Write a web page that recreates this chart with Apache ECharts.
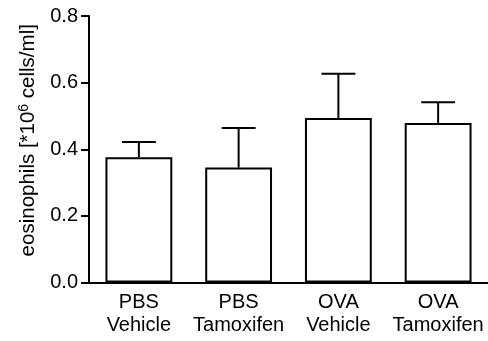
<!DOCTYPE html>
<html>
<head>
<meta charset="utf-8">
<script src="https://cdn.jsdelivr.net/npm/echarts@6/dist/echarts.min.js"></script>
<style>
  html, body { margin: 0; padding: 0; background: #fff; }
  #chart { width: 488px; height: 341px; }
</style>
</head>
<body>
<div id="chart"></div>
<script>
// Groups, means and SEM of eosinophil counts
var categories = ['PBS\nVehicle', 'PBS\nTamoxifen', 'OVA\nVehicle', 'OVA\nTamoxifen'];
var means = [0.376, 0.345, 0.494, 0.479];
var errors = [0.046, 0.119, 0.133, 0.062];
var yTicks = [0.0, 0.2, 0.4, 0.6, 0.8];

var FONT = 'Liberation Sans, Arial, sans-serif';

var errData = means.map(function (m, i) { return [i, m, m + errors[i]]; });

var chart = echarts.init(document.getElementById('chart'));
chart.setOption({
  animation: false,
  grid: { left: 89, right: 0, top: 16, bottom: 58.5 },
  xAxis: {
    type: 'category',
    data: categories,
    axisLine: { lineStyle: { color: '#000', width: 2 } },
    axisTick: { show: false },
    axisLabel: {
      interval: 0,
      color: '#000', fontFamily: FONT, fontSize: 20, lineHeight: 22.5, margin: 9
    }
  },
  yAxis: {
    type: 'value',
    min: yTicks[0],
    max: yTicks[yTicks.length - 1],
    interval: 0.2,
    splitLine: { show: false },
    axisLine: { show: true, lineStyle: { color: '#000', width: 2 } },
    axisTick: { show: true, length: 8, lineStyle: { color: '#000', width: 2 } },
    axisLabel: {
      color: '#000', fontFamily: FONT, fontSize: 20, margin: 11,
      formatter: function (v) { return v.toFixed(1); }
    },
    name: '{n|eosinophils [*10}{s|6}{n| cells/ml]}',
    nameLocation: 'middle',
    nameGap: 49,
    nameRotate: 90,
    nameTextStyle: {
      padding: [0, 0, 0, 18],
      rich: {
        n: { color: '#000', fontFamily: FONT, fontSize: 20.5 },
        s: { color: '#000', fontFamily: FONT, fontSize: 14, verticalAlign: 'bottom', padding: [0, 0, 9, 0] }
      }
    }
  },
  series: [
    {
      type: 'bar',
      data: means,
      barWidth: '67%',
      itemStyle: { color: '#fff', borderColor: '#000', borderWidth: 2 },
      z: 2
    },
    {
      type: 'custom',
      data: errData,
      z: 3,
      renderItem: function (params, api) {
        var x = api.value(0);
        var lo = api.coord([x, api.value(1)]);
        var hi = api.coord([x, api.value(2)]);
        var half = api.size([1, 0])[0] * 0.17;
        var st = { stroke: '#000', lineWidth: 2 };
        return {
          type: 'group',
          children: [
            { type: 'line', shape: { x1: lo[0], y1: lo[1], x2: hi[0], y2: hi[1] }, style: st },
            { type: 'line', shape: { x1: hi[0] - half, y1: hi[1], x2: hi[0] + half, y2: hi[1] }, style: st }
          ]
        };
      }
    }
  ]
});
</script>
</body>
</html>
